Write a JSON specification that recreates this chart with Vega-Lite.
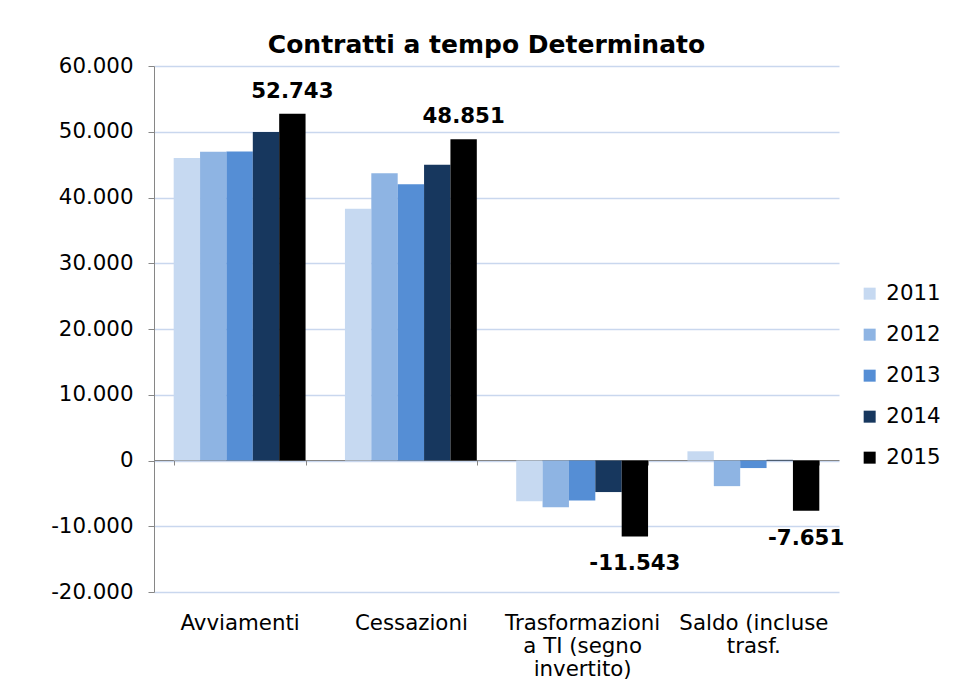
{
  "$schema": "https://vega.github.io/schema/vega-lite/v6.json",
  "width": 685,
  "height": 526,
  "autosize": {"type": "pad"},
  "padding": {"left": 50, "top": 33, "right": 5, "bottom": 0},
  "title": {
    "text": "Contratti a tempo Determinato",
    "font": "DejaVu Sans",
    "fontSize": 25,
    "fontWeight": "bold",
    "color": "#000000",
    "anchor": "middle",
    "frame": "group",
    "dx": -10,
    "offset": -3
  },
  "config": {
    "font": "DejaVu Sans",
    "view": {"stroke": null},
    "locale": {
      "number": {
        "decimal": ",",
        "thousands": ".",
        "grouping": [3],
        "currency": ["€", ""],
        "minus": "-"
      }
    }
  },
  "data": {
    "values": [
      {"cat": "Avviamenti", "year": "2011", "value": 46000},
      {"cat": "Avviamenti", "year": "2012", "value": 46950},
      {"cat": "Avviamenti", "year": "2013", "value": 47000},
      {"cat": "Avviamenti", "year": "2014", "value": 49950},
      {"cat": "Avviamenti", "year": "2015", "value": 52743},
      {"cat": "Cessazioni", "year": "2011", "value": 38300},
      {"cat": "Cessazioni", "year": "2012", "value": 43700},
      {"cat": "Cessazioni", "year": "2013", "value": 42000},
      {"cat": "Cessazioni", "year": "2014", "value": 45000},
      {"cat": "Cessazioni", "year": "2015", "value": 48851},
      {"cat": "Trasformazioni|a TI (segno|invertito)", "year": "2011", "value": -6200},
      {"cat": "Trasformazioni|a TI (segno|invertito)", "year": "2012", "value": -7100},
      {"cat": "Trasformazioni|a TI (segno|invertito)", "year": "2013", "value": -6100},
      {"cat": "Trasformazioni|a TI (segno|invertito)", "year": "2014", "value": -4800},
      {"cat": "Trasformazioni|a TI (segno|invertito)", "year": "2015", "value": -11543},
      {"cat": "Saldo (incluse|trasf.", "year": "2011", "value": 1400},
      {"cat": "Saldo (incluse|trasf.", "year": "2012", "value": -3900},
      {"cat": "Saldo (incluse|trasf.", "year": "2013", "value": -1150},
      {"cat": "Saldo (incluse|trasf.", "year": "2014", "value": 100},
      {"cat": "Saldo (incluse|trasf.", "year": "2015", "value": -7651}
    ]
  },
  "encoding": {
    "x": {
      "field": "cat",
      "type": "nominal",
      "sort": null,
      "scale": {"paddingInner": 0.23, "paddingOuter": 0.115},
      "axis": {
        "title": null,
        "orient": "bottom",
        "offset": -132,
        "domainColor": "#868686",
        "tickColor": "#868686",
        "tickBand": "extent",
        "tickSize": 5,
        "labelAngle": 0,
        "labelFontSize": 21.33,
        "labelColor": "#000000",
        "labelPadding": 147,
        "labelBaseline": "top",
        "labelLineHeight": 23,
        "labelLimit": 300,
        "labelExpr": "isValid(datum.value) ? split(datum.value, '|') : ''"
      }
    },
    "xOffset": {
      "field": "year",
      "type": "nominal",
      "scale": {"paddingInner": 0, "paddingOuter": 0}
    },
    "y": {
      "field": "value",
      "type": "quantitative",
      "scale": {"domain": [-20000, 60000], "nice": false, "zero": false},
      "axis": {
        "title": null,
        "values": [-20000, -10000, 0, 10000, 20000, 30000, 40000, 50000, 60000],
        "format": ",d",
        "labelFontSize": 21.33,
        "labelColor": "#000000",
        "labelPadding": 15,
        "tickSize": 6,
        "tickColor": "#868686",
        "domainColor": "#868686",
        "gridColor": "#c9d7ee",
        "gridWidth": 1.5
      }
    }
  },
  "layer": [
    {
      "mark": {"type": "bar"},
      "encoding": {
        "color": {
          "field": "year",
          "type": "nominal",
          "scale": {
            "domain": ["2011", "2012", "2013", "2014", "2015"],
            "range": ["#c6d9f1", "#8eb4e3", "#558ed5", "#17375e", "#000000"]
          },
          "legend": {
            "title": null,
            "orient": "none",
            "legendX": 705,
            "legendY": 217,
            "symbolType": "square",
            "symbolSize": 144,
            "symbolStrokeWidth": 0,
            "labelFontSize": 21.33,
            "labelColor": "#000000",
            "labelOffset": 6,
            "rowPadding": 19
          }
        }
      }
    },
    {
      "transform": [{"filter": "datum.year == '2015' && datum.value > 0"}],
      "mark": {"type": "text", "fontSize": 21.33, "fontWeight": "bold", "baseline": "bottom", "dy": -12, "color": "#000000"},
      "encoding": {
        "text": {"field": "value", "type": "quantitative", "format": ",d"}
      }
    },
    {
      "transform": [{"filter": "datum.year == '2015' && datum.value < 0"}],
      "mark": {"type": "text", "fontSize": 21.33, "fontWeight": "bold", "baseline": "top", "dy": 17, "color": "#000000"},
      "encoding": {
        "text": {"field": "value", "type": "quantitative", "format": ",d"}
      }
    }
  ]
}
